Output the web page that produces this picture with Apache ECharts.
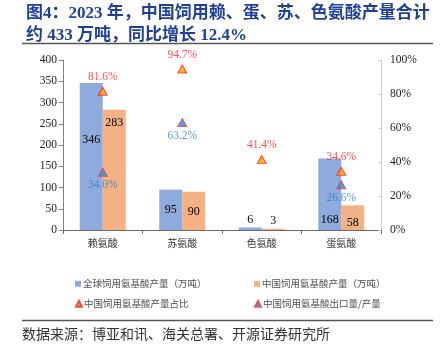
<!DOCTYPE html>
<html>
<head>
<meta charset="utf-8">
<script src="https://cdn.jsdelivr.net/npm/echarts@6/dist/echarts.min.js"></script>
<style>
  html, body { margin: 0; padding: 0; background: #fff; }
  #chart { width: 441px; height: 344px; }
</style>
</head>
<body>
<div id="chart"></div>
<script>
// Feed amino acid output, 2023
const categories = ['赖氨酸', '苏氨酸', '色氨酸', '蛋氨酸'];
const globalOutput = [346, 95, 6, 168];       // 万吨
const chinaOutput = [283, 90, 3, 58];         // 万吨
const chinaShare = [81.6, 94.7, 41.4, 34.6];  // %
const exportRatio = [34.0, 63.2, null, 26.6]; // %
const leftTicks = [0, 400, 50];
const rightTicks = [0, 100, 20];

const seriesNames = [
  '全球饲用氨基酸产量（万吨）',
  '中国饲用氨基酸产量（万吨）',
  '中国饲用氨基酸产量占比',
  '中国饲用氨基酸出口量/产量'
];

// value label placement for each bar (kept apart from the values)
const globalLabelLayout = [
  { position: 'inside', offset: [0, -17] },
  { position: 'inside', offset: [0, 0] },
  { position: 'top', offset: [0, 0] },
  { position: 'inside', offset: [0, 26] }
];
const chinaLabelLayout = [
  { position: 'inside', offset: [0, -47] },
  { position: 'inside', offset: [0, 1] },
  { position: 'top', offset: [0, 0] },
  { position: 'inside', offset: [0, 5] }
];

const serif = '"Liberation Serif", "Times New Roman", "Noto Sans CJK SC", serif';
const cjk = '"Noto Sans CJK SC", sans-serif';

const barLabel = { show: true, color: '#000', fontSize: 12, fontFamily: serif, distance: 2 };

function barData(values, layout) {
  return values.map((v, i) => ({ value: v, label: layout[i] }));
}

const chart = echarts.init(document.getElementById('chart'), null, { renderer: 'canvas' });

const legendBase = {
  orient: 'horizontal',
  itemWidth: 6,
  itemHeight: 6,
  itemGap: 4,
  textStyle: { fontSize: 9.5, color: '#505050', fontFamily: cjk, padding: [0, 0, 0, -3] },
  selectedMode: false
};

chart.setOption({
  animation: false,
  backgroundColor: '#fff',
  title: {
    text: '图4：2023 年，中国饲用赖、蛋、苏、色氨酸产量合计\n约 433 万吨，同比增长 12.4%',
    left: 21,
    top: -2,
    textStyle: {
      fontSize: 17,
      fontWeight: 'bold',
      color: '#1F3F99',
      fontFamily: serif,
      lineHeight: 22
    }
  },
  grid: { left: 63, right: 60, top: 60, bottom: 114, containLabel: false },
  legend: [
    Object.assign({}, legendBase, { left: 70, top: 274, data: [{ name: seriesNames[0], icon: 'rect' }] }),
    Object.assign({}, legendBase, { left: 249, top: 274, data: [{ name: seriesNames[1], icon: 'rect' }] }),
    Object.assign({}, legendBase, { left: 70, top: 294, data: [{ name: seriesNames[2], icon: 'triangle' }] }),
    Object.assign({}, legendBase, { left: 249, top: 294, data: [{ name: seriesNames[3], icon: 'triangle' }] })
  ],
  xAxis: {
    type: 'category',
    data: categories,
    axisLine: { lineStyle: { color: '#6B6B6B', width: 1 } },
    axisTick: { show: true, length: 4, lineStyle: { color: '#6B6B6B' } },
    axisLabel: { fontSize: 10, color: '#333', fontFamily: cjk, margin: 8 }
  },
  yAxis: [
    {
      type: 'value',
      min: leftTicks[0],
      max: leftTicks[1],
      interval: leftTicks[2],
      splitLine: { show: false },
      axisLine: { show: true, lineStyle: { color: '#7F7F7F' } },
      axisTick: { show: true, length: 4, lineStyle: { color: '#7F7F7F' } },
      axisLabel: { fontSize: 11.5, color: '#222', fontFamily: serif, margin: 6 }
    },
    {
      type: 'value',
      min: rightTicks[0],
      max: rightTicks[1],
      interval: rightTicks[2],
      position: 'right',
      splitLine: { show: false },
      axisLine: { show: true, lineStyle: { color: '#CFCFCF' } },
      axisTick: { show: true, inside: true, length: 3, lineStyle: { color: '#CFCFCF' } },
      axisLabel: { fontSize: 11.5, color: '#222', fontFamily: serif, margin: 9, formatter: '{value}%' }
    }
  ],
  series: [
    {
      name: seriesNames[0],
      type: 'bar',
      yAxisIndex: 0,
      data: barData(globalOutput, globalLabelLayout),
      barWidth: 23,
      barGap: '0%',
      itemStyle: { color: '#8FAADC' },
      label: barLabel,
      z: 2
    },
    {
      name: seriesNames[1],
      type: 'bar',
      yAxisIndex: 0,
      data: barData(chinaOutput, chinaLabelLayout),
      barWidth: 23,
      barGap: '0%',
      itemStyle: { color: '#F4B183' },
      label: barLabel,
      z: 2
    },
    {
      name: seriesNames[2],
      type: 'scatter',
      yAxisIndex: 1,
      data: chinaShare,
      symbol: 'triangle',
      symbolSize: [9, 8],
      itemStyle: { color: '#FFA000', borderColor: '#FF2020', borderWidth: 1 },
      label: {
        show: true,
        position: 'top',
        distance: 4,
        color: '#FF1E1E',
        fontSize: 11.5,
        fontFamily: serif,
        formatter: p => p.value.toFixed(1) + '%'
      },
      z: 5
    },
    {
      name: seriesNames[3],
      type: 'scatter',
      yAxisIndex: 1,
      data: exportRatio,
      symbol: 'triangle',
      symbolSize: [9, 8],
      itemStyle: { color: '#2E8BD8', borderColor: '#E0404A', borderWidth: 1 },
      label: {
        show: true,
        position: 'bottom',
        distance: 3,
        color: '#2A7FCC',
        fontSize: 11.5,
        fontFamily: serif,
        formatter: p => p.value.toFixed(1) + '%'
      },
      z: 5
    }
  ],
  graphic: [
    { type: 'line', shape: { x1: 22, y1: 43.5, x2: 433, y2: 43.5 }, style: { stroke: '#555', lineWidth: 1.5 } },
    { type: 'line', shape: { x1: 22, y1: 320.5, x2: 433, y2: 320.5 }, style: { stroke: '#555', lineWidth: 1.5 } },
    {
      type: 'text',
      left: 22,
      top: 327,
      style: { text: '数据来源：博亚和讯、海关总署、开源证券研究所', fontSize: 14, fill: '#333', fontFamily: cjk }
    }
  ]
});
</script>
</body>
</html>
